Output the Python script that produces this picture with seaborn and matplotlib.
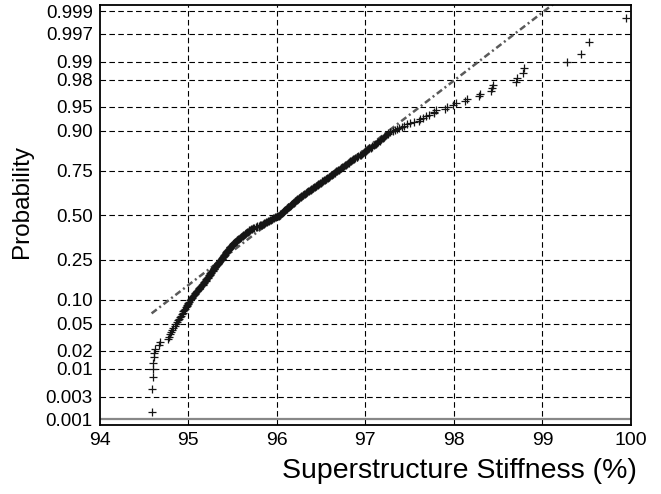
import numpy as np
import pandas as pd
import matplotlib
matplotlib.use("Agg")
import matplotlib.pyplot as plt
import seaborn as sns
from statistics import NormalDist

# Measured superstructure stiffness samples (%)
stiffness = [
    94.585, 94.595, 94.597, 94.60, 94.603, 94.607, 94.613, 94.62, 94.665, 94.68,
    94.765, 94.78, 94.79, 94.805, 94.82, 94.83, 94.845, 94.86,
    94.87, 94.88, 94.89, 94.905, 94.915, 94.93,
    94.94, 94.945, 94.955, 94.96, 94.97, 94.98, 94.985, 94.995, 95.00, 95.01, 95.02, 95.03,
    95.04, 95.045, 95.055, 95.06, 95.07, 95.08, 95.085, 95.095, 95.10, 95.11,
    95.12, 95.125, 95.135, 95.14, 95.15, 95.16, 95.165, 95.175, 95.18, 95.19,
    95.195, 95.20, 95.205, 95.21, 95.22, 95.225, 95.23, 95.235, 95.24, 95.245,
    95.25, 95.255, 95.26, 95.27, 95.275, 95.28, 95.285, 95.29, 95.295, 95.30,
    95.305, 95.31, 95.315, 95.32, 95.33, 95.335, 95.34, 95.345, 95.35, 95.355,
    95.36, 95.37,
    95.375, 95.38, 95.385, 95.39, 95.395, 95.40, 95.40, 95.405, 95.41, 95.415,
    95.42, 95.425, 95.43, 95.435, 95.44, 95.44, 95.445, 95.45, 95.455, 95.46,
    95.465, 95.47, 95.475, 95.48, 95.49, 95.495, 95.50, 95.505, 95.51, 95.515,
    95.52, 95.525, 95.53, 95.54, 95.545, 95.55,
    95.555, 95.565, 95.57, 95.58, 95.585, 95.59, 95.60, 95.605, 95.615, 95.62,
    95.63, 95.635, 95.64, 95.65, 95.655, 95.665, 95.67, 95.68, 95.685, 95.69, 95.70,
    95.71, 95.72, 95.735, 95.745, 95.76, 95.77, 95.78, 95.795, 95.81, 95.82,
    95.83, 95.84, 95.85, 95.86, 95.87, 95.88, 95.89, 95.90, 95.91, 95.92,
    95.93, 95.94, 95.95, 95.96, 95.97, 95.98, 95.99, 96.00, 96.01, 96.02,
    96.03, 96.035, 96.04, 96.045, 96.055, 96.06, 96.065, 96.07, 96.08, 96.085,
    96.09, 96.095, 96.10, 96.11, 96.115, 96.12, 96.125, 96.13, 96.14, 96.145,
    96.15, 96.155, 96.16, 96.17, 96.175, 96.18, 96.19, 96.195, 96.20, 96.205,
    96.21, 96.22, 96.225, 96.23, 96.24, 96.245, 96.25, 96.26, 96.27,
    96.275, 96.285, 96.29, 96.30, 96.31, 96.315, 96.325, 96.33, 96.34, 96.345,
    96.355, 96.36, 96.37,
    96.38, 96.39, 96.395, 96.405, 96.41, 96.42, 96.43, 96.44, 96.445, 96.455,
    96.465, 96.47, 96.48, 96.49, 96.50, 96.505, 96.515, 96.52, 96.53, 96.54,
    96.55, 96.56, 96.565, 96.575, 96.585, 96.59, 96.60, 96.61, 96.62, 96.63,
    96.635, 96.645, 96.655, 96.66, 96.67, 96.68,
    96.69, 96.70, 96.71, 96.72, 96.73, 96.74, 96.75, 96.76, 96.77, 96.78,
    96.79, 96.80, 96.81, 96.82, 96.83, 96.84, 96.85,
    96.86, 96.875, 96.885, 96.90, 96.91, 96.92, 96.935, 96.945, 96.96, 96.97,
    96.985, 96.995, 97.01, 97.02,
    97.03, 97.045, 97.06, 97.07, 97.08, 97.095, 97.11, 97.12, 97.135, 97.145,
    97.16, 97.17,
    97.18, 97.195, 97.21, 97.22, 97.235, 97.25, 97.26, 97.28,
    97.31, 97.33, 97.36, 97.38, 97.41, 97.44, 97.47, 97.50, 97.55, 97.60,
    97.62, 97.65, 97.69, 97.72, 97.77, 97.78, 97.80, 97.90, 97.92, 97.99,
    98.02, 98.13, 98.15, 98.28, 98.29, 98.42, 98.43, 98.44, 98.70, 98.71,
    98.78, 98.79, 99.28, 99.44, 99.53, 99.94,
]

prob_ticks = [0.001, 0.003, 0.01, 0.02, 0.05, 0.10, 0.25, 0.50,
              0.75, 0.90, 0.95, 0.98, 0.99, 0.997, 0.999]
prob_labels = ["0.001", "0.003", "0.01", "0.02", "0.05", "0.10", "0.25", "0.50",
               "0.75", "0.90", "0.95", "0.98", "0.99", "0.997", "0.999"]
x_ticks = [94, 95, 96, 97, 98, 99, 100]

nd = NormalDist()
x = np.sort(np.asarray(stiffness, dtype=float))
n = len(x)
p = (np.arange(1, n + 1) - 0.5) / n
z = np.array([nd.inv_cdf(v) for v in p])
df = pd.DataFrame({"stiffness": x, "z": z})

# Reference line through the first and third quartiles, spanning the data range
q1, q3 = np.percentile(x, [25, 75])
z1, z3 = nd.inv_cdf(0.25), nd.inv_cdf(0.75)
slope = (z3 - z1) / (q3 - q1)
line_x = np.array([x.min(), x.max()])
line_z = z1 + slope * (line_x - q1)

sns.set_theme(style="white")
plt.rcParams["font.family"] = ["Liberation Sans", "DejaVu Sans"]

fig = plt.figure(figsize=(6.61, 4.94), dpi=100)
ax = fig.add_axes([0.151, 0.1397, 0.8036, 0.8502])

dash = (0, (5, 3))
zt = [nd.inv_cdf(v) for v in prob_ticks]
for v in zt[1:]:
    ax.axhline(v, color="black", lw=0.8, ls=dash, zorder=0.5)
ax.axhline(zt[0], color="#888888", lw=1.6, zorder=0.6)
for xv in x_ticks[1:-1]:
    ax.axvline(xv, color="black", lw=0.8, ls=dash, zorder=0.5)

ax.plot(line_x, line_z, color="#5a5a5a", lw=1.8, ls=(0, (2.6, 1.3, 0.8, 1.3)), zorder=2)

sns.scatterplot(data=df, x="stiffness", y="z", marker="+", color="#151515",
                s=40, linewidth=0.9, ax=ax, zorder=3, legend=False)

ax.set_xlim(94, 100)
ax.set_ylim(-3.177, 3.186)
ax.set_xticks(x_ticks)
ax.set_xticklabels([str(t) for t in x_ticks])
ax.set_yticks(zt)
ax.set_yticklabels(prob_labels)
ax.tick_params(direction="in", length=4, width=0.8, labelsize=13.5,
               colors="black", pad=5)
ax.tick_params(axis="x", labelsize=14)
ax.set_xlabel("")
ax.set_ylabel("")
for s in ax.spines.values():
    s.set_color("black")
    s.set_linewidth(1.3)

fig.text(637 / 661, 1 - 471 / 494, "Superstructure Stiffness (%)",
         ha="right", va="center", fontsize=20.5, color="black")
fig.text(22 / 661, 1 - 201 / 494, "Probability", rotation=90,
         ha="center", va="center", fontsize=17.5, color="black")

fig.savefig("out.png", dpi=100)
